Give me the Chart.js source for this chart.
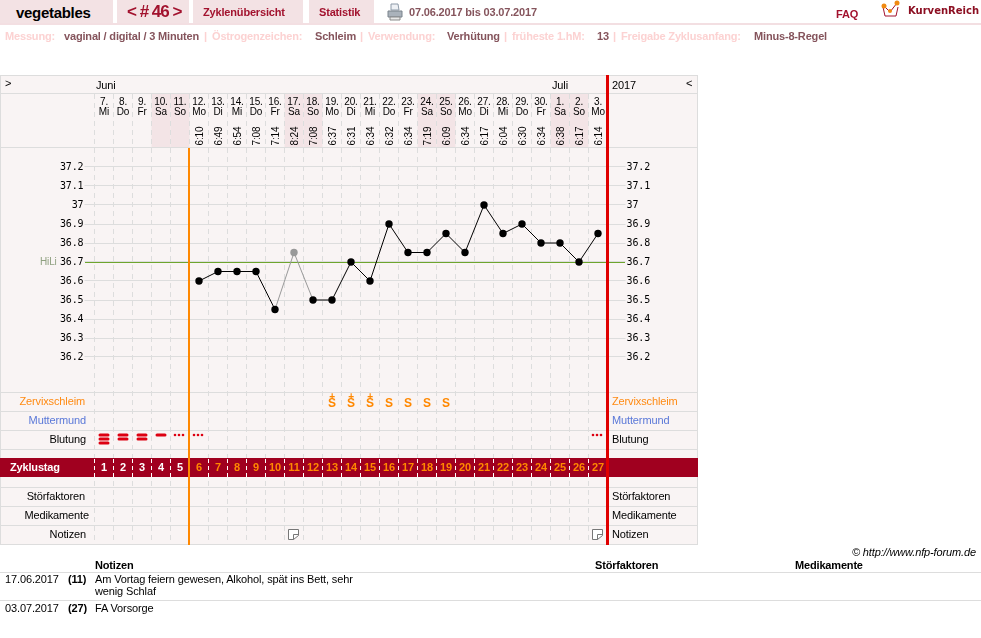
<!DOCTYPE html>
<html lang="de">
<head>
<meta charset="utf-8">
<title>vegetables # 46</title>
<script src="https://cdn.jsdelivr.net/npm/chart.js@4"></script>
<style>
    html, body { margin: 0; padding: 0; background: #fff; }
    body { width: 981px; height: 638px; position: relative; overflow: hidden; font: 11px "Liberation Sans", Arial, sans-serif; color: #000; letter-spacing: -0.13px; }
    canvas { position: absolute; left: 0; top: 0; }
    .t { position: absolute; white-space: nowrap; line-height: 13px; }
    .b { font-weight: bold; letter-spacing: -0.17px; }
    .tab { position: absolute; top: 0; height: 23px; background: #f3e2e4; }
    .red { color: #a2122e; }
    .dim { color: #fcd2d2; font-weight: bold; letter-spacing: -0.17px; }
    .val { color: #85545c; font-weight: bold; letter-spacing: -0.17px; }
    .lab { position: absolute; width: 86px; left: 0; text-align: right; line-height: 13px; }
    .rule { position: absolute; left: 0; width: 981px; height: 1px; background: #ddd; }
</style>
</head>
<body>
<canvas id="cycleChart" width="981" height="638"></canvas>

<div class="tab" style="left:0;width:113px"></div>
<div class="tab" style="left:117px;width:72px"></div>
<div class="tab" style="left:193px;width:110px"></div>
<div class="tab" style="left:309px;width:65px"></div>
<div style="position:absolute;left:0;top:23px;width:981px;height:2px;background:#f3dfe2"></div>

<div class="t b" style="left:16px;top:4px;font-size:15px;line-height:17px;letter-spacing:-0.3px">vegetables</div>
<div class="t b red" style="left:127px;top:2px;font-size:17px;line-height:20px;letter-spacing:-1px">&lt; # 46 &gt;</div>
<div class="t b red" style="left:203px;top:6px">Zyklenübersicht</div>
<div class="t b red" style="left:319px;top:6px">Statistik</div>
<svg style="position:absolute;left:387px;top:3px" width="16" height="18" viewBox="0 0 16 18">
    <path d="M4 1h7l1 6H4z" fill="#eef1f5" stroke="#8d9aa8"/>
    <path d="M1 8h14v6H1z" fill="#aab2bb" stroke="#7a838c"/>
    <path d="M3 14h10v3H3z" fill="#e8e8e8" stroke="#8a8a8a"/>
</svg>
<div class="t val" style="left:409px;top:6px">07.06.2017 bis 03.07.2017</div>
<div class="t b red" style="left:836px;top:8px">FAQ</div>
<svg style="position:absolute;left:880px;top:0" width="22" height="19" viewBox="0 0 22 19">
    <path d="M3 7l2 9h11l2-9" fill="#fff" stroke="#a2122e"/>
    <path d="M4 6l6 6 7-9" fill="none" stroke="#a2122e"/>
    <circle cx="4" cy="6" r="2.5" fill="#f08a12"/><circle cx="10" cy="11" r="2" fill="#f08a12"/><circle cx="17" cy="3" r="2.5" fill="#f08a12"/>
</svg>
<div class="t b" style="left:908px;top:4px;font:bold 10px 'DejaVu Sans';line-height:13px;color:#8c0f22;letter-spacing:0">KurvenReich</div>

<div class="t dim" style="left:5px;top:30px">Messung:</div>
<div class="t val" style="left:64px;top:30px">vaginal / digital / 3 Minuten</div>
<div class="t dim" style="left:204px;top:30px">|</div>
<div class="t dim" style="left:212px;top:30px">Östrogenzeichen:</div>
<div class="t val" style="left:315px;top:30px">Schleim</div>
<div class="t dim" style="left:360px;top:30px">|</div>
<div class="t dim" style="left:368px;top:30px">Verwendung:</div>
<div class="t val" style="left:447px;top:30px">Verhütung</div>
<div class="t dim" style="left:504px;top:30px">|</div>
<div class="t dim" style="left:512px;top:30px">früheste 1.hM:</div>
<div class="t val" style="left:597px;top:30px">13</div>
<div class="t dim" style="left:613px;top:30px">|</div>
<div class="t dim" style="left:621px;top:30px">Freigabe Zyklusanfang:</div>
<div class="t val" style="left:754px;top:30px">Minus-8-Regel</div>

<div class="t" style="left:5px;top:77px">&gt;</div>
<div class="t" style="left:96px;top:79px">Juni</div>
<div class="t" style="left:552px;top:79px">Juli</div>
<div class="t" style="left:612px;top:79px">2017</div>
<div class="t" style="left:686px;top:77px">&lt;</div>
<div class="t" style="left:40px;top:255px;font-size:10px;color:#8fa080">HiLi</div>

<div class="lab" style="top:395px;width:85px;color:#ff8a12">Zervixschleim</div>
<div class="lab" style="top:414px;color:#5a78d8">Muttermund</div>
<div class="lab" style="top:433px">Blutung</div>
<div class="t b" style="left:10px;top:461px;color:#fff">Zyklustag</div>
<div class="lab" style="top:490px;width:85px">Störfaktoren</div>
<div class="lab" style="top:509px;width:89px">Medikamente</div>
<div class="lab" style="top:528px">Notizen</div>

<div class="t" style="left:612px;top:395px;color:#ff8a12">Zervixschleim</div>
<div class="t" style="left:612px;top:414px;color:#5a78d8">Muttermund</div>
<div class="t" style="left:612px;top:433px">Blutung</div>
<div class="t" style="left:612px;top:490px">Störfaktoren</div>
<div class="t" style="left:612px;top:509px">Medikamente</div>
<div class="t" style="left:612px;top:528px">Notizen</div>

<div class="t" style="right:5px;top:546px;font-style:italic">© http://www.nfp-forum.de</div>
<div class="t b" style="left:95px;top:559px">Notizen</div>
<div class="t b" style="left:595px;top:559px">Störfaktoren</div>
<div class="t b" style="left:795px;top:559px">Medikamente</div>
<div class="rule" style="top:572px"></div>
<div class="t" style="left:5px;top:573px">17.06.2017</div>
<div class="t b" style="left:68px;top:573px">(11)</div>
<div class="t" style="left:95px;top:573px;line-height:12px">Am Vortag feiern gewesen, Alkohol, spät ins Bett, sehr<br>wenig Schlaf</div>
<div class="rule" style="top:600px"></div>
<div class="t" style="left:5px;top:602px">03.07.2017</div>
<div class="t b" style="left:68px;top:602px">(27)</div>
<div class="t" style="left:95px;top:602px">FA Vorsorge</div>

<script>
const dayNumbers = ['7.', '8.', '9.', '10.', '11.', '12.', '13.', '14.', '15.', '16.', '17.', '18.', '19.', '20.', '21.', '22.', '23.', '24.', '25.', '26.', '27.', '28.', '29.', '30.', '1.', '2.', '3.'];
const weekdays = ['Mi', 'Do', 'Fr', 'Sa', 'So', 'Mo', 'Di', 'Mi', 'Do', 'Fr', 'Sa', 'So', 'Mo', 'Di', 'Mi', 'Do', 'Fr', 'Sa', 'So', 'Mo', 'Di', 'Mi', 'Do', 'Fr', 'Sa', 'So', 'Mo'];
const cycleDays = [1, 2, 3, 4, 5, 6, 7, 8, 9, 10, 11, 12, 13, 14, 15, 16, 17, 18, 19, 20, 21, 22, 23, 24, 25, 26, 27];
const times = [null, null, null, null, null, '6:10', '6:49', '6:54', '7:08', '7:14', '8:24', '7:08', '6:37', '6:31', '6:34', '6:32', '6:34', '7:19', '6:09', '6:34', '6:17', '6:04', '6:30', '6:34', '6:38', '6:17', '6:14'];
const temperatures = [null, null, null, null, null, 36.6, 36.65, 36.65, 36.65, 36.45, 36.75, 36.5, 36.5, 36.7, 36.6, 36.9, 36.75, 36.75, 36.85, 36.75, 37, 36.85, 36.9, 36.8, 36.8, 36.7, 36.85];
const excludedDays = [11];
const tempTicks = [36.2, 36.3, 36.4, 36.5, 36.6, 36.7, 36.8, 36.9, 37, 37.1, 37.2];
const coverLine = 36.7;
const mucus = ['', '', '', '', '', '', '', '', '', '', '', '', 'S+', 'S+', 'S+', 'S', 'S', 'S', 'S', '', '', '', '', '', '', '', ''];
// 3/2/1 = bars, 0.5 = dots (spotting)
const bleeding = [3, 2, 2, 1, 0.5, 0.5, 0, 0, 0, 0, 0, 0, 0, 0, 0, 0, 0, 0, 0, 0, 0, 0, 0, 0, 0, 0, 0.5];
const noteDays = [11, 27];
const fertileStartDay = 5;

const GRID = '#ddd';
const PANEL = '#f9f4f4';
const isExcluded = i => excludedDays.includes(cycleDays[i]);

const panelPlugin = {
    id: 'panel',
    beforeDraw(chart) {
        const { ctx, scales } = chart;
        const x = scales.x;
        const colLeft = i => x.getPixelForValue(i) - 9.5;

        ctx.save();
        ctx.fillStyle = PANEL;
        ctx.fillRect(0, 75, 698, 470);

        // weekend columns in the date header
        ctx.fillStyle = '#f3e4e6';
        weekdays.forEach((d, i) => {
            if (d === 'Sa' || d === 'So') ctx.fillRect(colLeft(i), 94, 19, 53);
        });

        // dashed day lines, header + plot + rows
        ctx.strokeStyle = GRID;
        ctx.lineWidth = 1;
        ctx.setLineDash([5, 4]);
        cycleDays.forEach((d, i) => {
            ctx.beginPath();
            ctx.moveTo(colLeft(i), 94);
            ctx.lineTo(colLeft(i), 544);
            ctx.stroke();
        });
        ctx.setLineDash([]);

        ctx.fillStyle = GRID;
        [392, 411, 430, 449, 487, 506, 525, 544, 75, 93, 147].forEach(y => ctx.fillRect(0, y, 698, 1));
        ctx.fillRect(0, 75, 1, 470);
        ctx.fillRect(697, 75, 1, 470);

        // Zyklustag band
        ctx.fillStyle = '#a0001f';
        ctx.fillRect(0, 458, 698, 19);
        ctx.strokeStyle = '#fff';
        ctx.setLineDash([4, 3]);
        cycleDays.forEach((d, i) => {
            ctx.beginPath();
            ctx.moveTo(colLeft(i), 459);
            ctx.lineTo(colLeft(i), 477);
            ctx.stroke();
        });
        ctx.restore();
    },
    beforeDatasetsDraw(chart) {
        const { ctx, scales } = chart;
        const x = scales.x;
        ctx.save();
        // HiLi cover line runs over the tick stubs
        ctx.fillStyle = '#6ea52e';
        ctx.fillRect(85, Math.round(scales.y.getPixelForValue(coverLine)), 540, 1);

        // marker lines
        ctx.fillStyle = '#ff8800';
        ctx.fillRect(x.getPixelForValue(fertileStartDay) - 11, 148, 2, 397);
        ctx.fillStyle = '#e00000';
        ctx.fillRect(606, 75, 3, 470);
        ctx.restore();
    },
    afterDatasetsDraw(chart) {
        const { ctx, scales } = chart;
        const x = scales.x;
        ctx.save();

        // measuring times, rotated
        ctx.fillStyle = '#000';
        ctx.font = '10px "Liberation Sans"';
        ctx.textBaseline = 'middle';
        ctx.textAlign = 'left';
        times.forEach((t, i) => {
            if (!t) return;
            ctx.save();
            ctx.translate(x.getPixelForValue(i) + 1, 145.5);
            ctx.rotate(-Math.PI / 2);
            ctx.fillText(t, 0, 0);
            ctx.restore();
        });

        // cycle day numbers
        ctx.font = 'bold 11px "Liberation Sans"';
        ctx.textAlign = 'center';
        cycleDays.forEach((d, i) => {
            ctx.fillStyle = i < fertileStartDay ? '#fff' : '#ff8800';
            ctx.fillText(d, x.getPixelForValue(i), 468);
        });

        // mucus
        ctx.fillStyle = '#ff8800';
        mucus.forEach((m, i) => {
            if (!m) return;
            const px = x.getPixelForValue(i);
            ctx.font = 'bold 12px "Liberation Sans"';
            ctx.fillText('S', px, 404);
            if (m === 'S+') {
                ctx.font = 'bold 10px "Liberation Sans"';
                ctx.fillText('+', px, 397);
            }
        });

        // bleeding
        ctx.fillStyle = '#dd0011';
        bleeding.forEach((b, i) => {
            const px = x.getPixelForValue(i);
            if (b === 0.5) {
                [-4, 0, 4].forEach(dx => {
                    ctx.beginPath();
                    ctx.arc(px - 1 + dx, 435, 1.3, 0, Math.PI * 2);
                    ctx.fill();
                });
            } else {
                for (let k = 0; k < b; k++) {
                    ctx.beginPath();
                    ctx.roundRect(px - 5.5, 433.5 + k * 4, 11, 3, 1.5);
                    ctx.fill();
                }
            }
        });

        // note icons
        noteDays.forEach(d => {
            const l = Math.round(x.getPixelForValue(cycleDays.indexOf(d))) - 6;
            ctx.strokeStyle = '#777';
            ctx.fillStyle = '#fff';
            ctx.beginPath();
            ctx.moveTo(l + 0.5, 529.5);
            ctx.lineTo(l + 10.5, 529.5);
            ctx.lineTo(l + 10.5, 535.5);
            ctx.lineTo(l + 5.5, 539.5);
            ctx.lineTo(l + 0.5, 539.5);
            ctx.closePath();
            ctx.fill();
            ctx.stroke();
            ctx.beginPath();
            ctx.moveTo(l + 10.5, 534.5);
            ctx.lineTo(l + 5.5, 534.5);
            ctx.lineTo(l + 5.5, 539.5);
            ctx.stroke();
        });
        ctx.restore();
    }
};

const tickFont = { family: '"DejaVu Sans Mono"', size: 10 };
const keepTicks = scale => { scale.ticks = tempTicks.map(value => ({ value })); };
const tickLabel = value => String(value);

new Chart(document.getElementById('cycleChart'), {
    type: 'line',
    data: {
        labels: dayNumbers.map((d, i) => [d, weekdays[i]]),
        datasets: [{
            data: temperatures,
            borderColor: '#000',
            borderWidth: 1,
            tension: 0,
            pointRadius: 3.7,
            pointBorderWidth: 0,
            pointBackgroundColor: temperatures.map((t, i) => isExcluded(i) ? '#999' : '#000'),
            segment: {
                borderColor: c => (isExcluded(c.p0DataIndex) || isExcluded(c.p1DataIndex)) ? '#999' : '#000'
            }
        }]
    },
    plugins: [panelPlugin],
    options: {
        responsive: false,
        animation: false,
        events: [],
        layout: { padding: { left: 0, right: 284, top: 75, bottom: 262 } },
        plugins: { legend: { display: false }, tooltip: { enabled: false } },
        scales: {
            x: {
                position: 'top',
                offset: true,
                afterFit: s => { s.height = 73; },
                grid: { display: false },
                border: { display: false },
                ticks: {
                    autoSkip: false,
                    maxRotation: 0,
                    padding: 23,
                    color: '#000',
                    font: { family: '"Liberation Sans"', size: 10, lineHeight: 1 }
                }
            },
            y: {
                position: 'left',
                min: 36.1,
                max: 37.3,
                afterFit: s => { s.width = 94.5; },
                afterBuildTicks: keepTicks,
                grid: { color: GRID, tickLength: 10, tickColor: GRID },
                border: { display: false },
                ticks: { padding: 1, color: '#000', font: tickFont, callback: tickLabel }
            },
            y2: {
                position: 'right',
                min: 36.1,
                max: 37.3,
                afterFit: s => { s.width = 89.5; },
                afterBuildTicks: keepTicks,
                grid: { drawOnChartArea: false, color: GRID, tickLength: 18, tickColor: GRID },
                border: { display: false },
                ticks: { padding: 1, color: '#000', font: tickFont, callback: tickLabel }
            }
        }
    }
});
</script>
</body>
</html>
